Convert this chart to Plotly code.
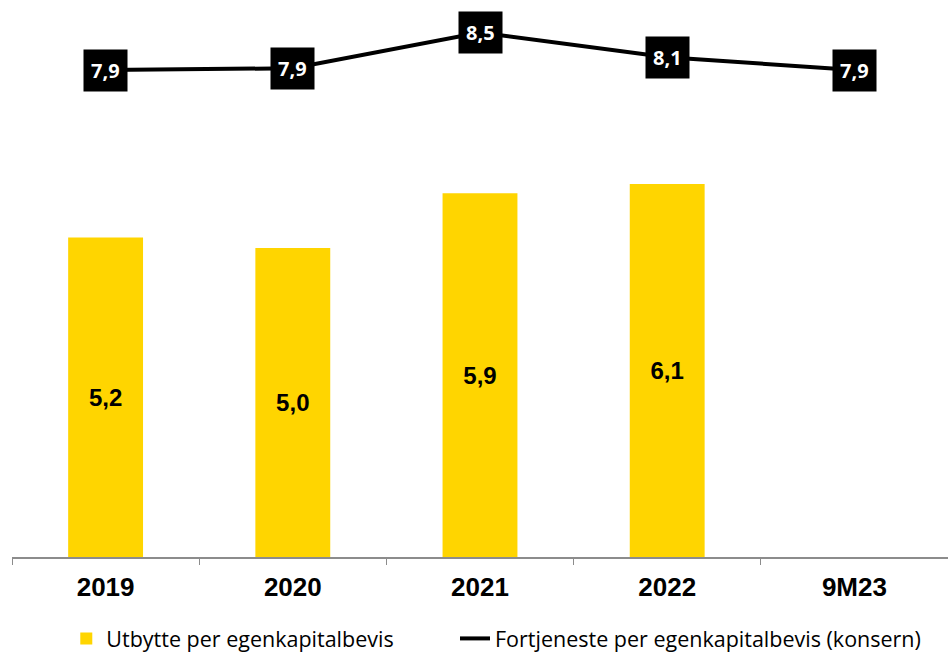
import plotly.graph_objects as go

categories = ["2019", "2020", "2021", "2022", "9M23"]
dividend_values = [5.19, 5.02, 5.91, 6.06, None]
earnings_values = [7.91, 7.94, 8.52, 8.12, 7.91]

bar_name = "Utbytte per egenkapitalbevis"
line_name = "Fortjeneste per egenkapitalbevis (konsern)"

YELLOW = "#FFD500"

fig = go.Figure()
fig.add_trace(go.Bar(
    x=categories, y=dividend_values, name=bar_name,
    marker=dict(color=YELLOW, line=dict(width=0)),
    width=0.4, legend="legend",
    texttemplate="%{y:.1f}", textposition="inside", insidetextanchor="middle",
    textfont=dict(family="Liberation Sans", size=24, color="black", weight="bold"),
    textangle=0,
))
fig.add_trace(go.Scatter(
    x=categories, y=earnings_values, name=line_name, mode="lines",
    line=dict(color="black", width=4), legend="legend2",
))

for i, v in enumerate(earnings_values):
    fig.add_annotation(
        x=i, y=v, text=f"{v:.1f}".replace(".", ","), showarrow=False,
        bgcolor="black", borderpad=7,
        font=dict(family="Open Sans", size=20, color="white", weight="bold"),
    )

legend_font = dict(family="Open Sans", size=21.5, color="black")
fig.update_layout(
    width=948, height=653,
    margin=dict(l=12, r=0, t=3, b=96, autoexpand=False),
    plot_bgcolor="white", paper_bgcolor="white",
    separators=", ",
    showlegend=True,
    legend=dict(orientation="h", x=0.058, xanchor="left", y=-0.147, yanchor="middle",
                font=legend_font),
    legend2=dict(orientation="h", x=0.4733, xanchor="left", y=-0.147, yanchor="middle",
                 font=legend_font),
)
fig.update_xaxes(
    type="category", categoryorder="array", categoryarray=categories,
    range=[-0.5, len(categories) - 0.5], tickangle=0, automargin=False,
    showline=True, linecolor="#8c8c8c", linewidth=1.5,
    ticks="outside", tickson="boundaries", ticklen=6, tickcolor="#8c8c8c",
    ticklabelstandoff=6,
    tickfont=dict(family="Liberation Sans", size=26, color="black", weight="bold"),
    showgrid=False, zeroline=False,
)
fig.update_yaxes(range=[0, 9], visible=False, showgrid=False, zeroline=False, automargin=False)

fig.write_html("out.html", config={"displayModeBar": False},
               post_script="document.body.style.margin='0';document.body.style.overflow='hidden';")
